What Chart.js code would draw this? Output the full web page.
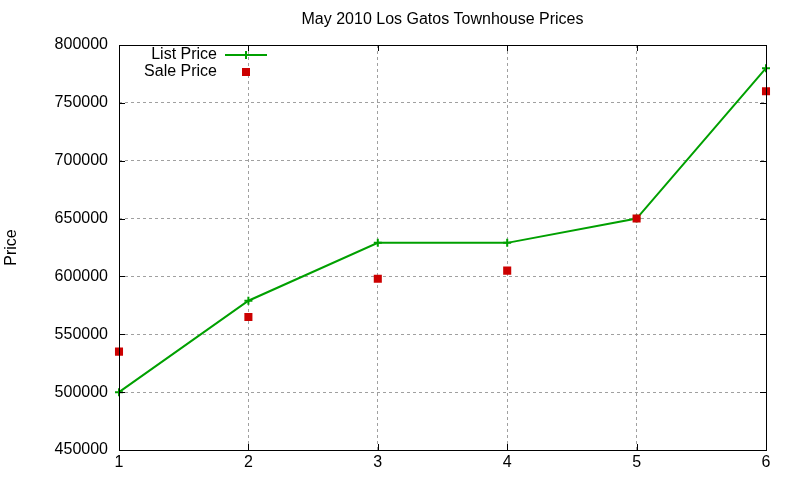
<!DOCTYPE html>
<html>
<head>
<meta charset="utf-8">
<script src="https://cdn.jsdelivr.net/npm/chart.js@4"></script>
<style>
  html, body { margin: 0; padding: 0; background: #fff; }
  #wrap { width: 800px; height: 480px; }
</style>
</head>
<body>
<div id="wrap"><canvas id="chart" width="800" height="480"></canvas></div>
<script>
const months = ['1', '2', '3', '4', '5', '6'];
const listPrice = [500000, 579000, 629000, 629000, 650000, 780000];
const salePrice = [535000, 565000, 598000, 605000, 650000, 760000];
const yTicks = [450000, 500000, 550000, 600000, 650000, 700000, 750000, 800000];

const FONT = 'Liberation Sans, Arial, sans-serif';
const GREEN = '#00a000';
const RED = '#cc0000';

// gnuplot style frame, mirrored inward ticks, title and key
const gnuFrame = {
    id: 'gnuFrame',
    afterDraw(chart) {
        const ctx = chart.ctx;
        const a = chart.chartArea;
        const xs = chart.scales.x;
        const ys = chart.scales.y;
        ctx.save();
        ctx.strokeStyle = '#000';
        ctx.lineWidth = 1;
        ctx.strokeRect(Math.round(a.left) + 0.5, Math.round(a.top) + 0.5,
            Math.round(a.right - a.left), Math.round(a.bottom - a.top));
        ctx.beginPath();
        yTicks.forEach(v => {
            const y = Math.round(ys.getPixelForValue(v)) + 0.5;
            ctx.moveTo(a.left, y); ctx.lineTo(a.left + 6, y);
            ctx.moveTo(a.right - 6, y); ctx.lineTo(a.right, y);
        });
        months.forEach((m, i) => {
            const x = Math.round(xs.getPixelForValue(i)) + 0.5;
            ctx.moveTo(x, a.bottom); ctx.lineTo(x, a.bottom - 6);
            ctx.moveTo(x, a.top); ctx.lineTo(x, a.top + 6);
        });
        ctx.stroke();

        // title
        ctx.fillStyle = '#000';
        ctx.font = '16px ' + FONT;
        ctx.textAlign = 'center';
        ctx.textBaseline = 'middle';
        ctx.fillText('May 2010 Los Gatos Townhouse Prices', (a.left + a.right) / 2, 20);

        // key
        ctx.textAlign = 'right';
        ctx.fillText('List Price', 217, 55);
        ctx.fillText('Sale Price', 217, 72);
        ctx.strokeStyle = GREEN;
        ctx.lineWidth = 2;
        ctx.beginPath();
        ctx.moveTo(225, 55); ctx.lineTo(267, 55);
        ctx.moveTo(246, 51); ctx.lineTo(246, 59);
        ctx.stroke();
        ctx.fillStyle = RED;
        ctx.fillRect(242, 68, 8, 8);
        ctx.restore();
    }
};

const ctx = document.getElementById('chart').getContext('2d');
new Chart(ctx, {
    type: 'line',
    data: {
        labels: months,
        datasets: [
            {
                label: 'List Price',
                data: listPrice,
                order: 2, // drawn first, sale squares sit on top
                borderColor: GREEN,
                backgroundColor: GREEN,
                borderWidth: 2,
                tension: 0,
                pointStyle: 'cross',
                pointRadius: 4,
                pointBorderWidth: 2,
                pointBorderColor: GREEN,
                fill: false
            },
            {
                label: 'Sale Price',
                data: salePrice,
                order: 1,
                showLine: false,
                borderColor: RED,
                backgroundColor: RED,
                pointStyle: 'rect',
                pointRadius: 5.7,
                pointBorderWidth: 0,
                fill: false
            }
        ]
    },
    options: {
        responsive: false,
        animation: false,
        devicePixelRatio: 1,
        layout: { padding: { left: 0, right: 34, top: 45, bottom: 0 } },
        plugins: {
            legend: { display: false },
            title: { display: false },
            tooltip: { enabled: false }
        },
        scales: {
            x: {
                type: 'category',
                offset: false,
                grid: { color: '#a0a0a0', lineWidth: 1, drawTicks: false },
                border: { display: false, dash: [3, 3] },
                ticks: {
                    color: '#000',
                    font: { family: FONT, size: 16 },
                    padding: 3,
                    maxRotation: 0
                },
                afterFit(scale) { scale.height = 30; }
            },
            y: {
                min: 450000,
                max: 800000,
                grid: { color: '#a0a0a0', lineWidth: 1, drawTicks: false },
                border: { display: false, dash: [3, 3] },
                ticks: {
                    stepSize: 50000,
                    color: '#000',
                    font: { family: FONT, size: 16 },
                    padding: 11,
                    callback: v => String(v)
                },
                title: {
                    display: true,
                    text: 'Price',
                    color: '#000',
                    font: { family: FONT, size: 16 },
                    padding: { top: 2, bottom: 0 }
                },
                afterFit(scale) { scale.width = 119; }
            }
        }
    },
    plugins: [gnuFrame]
});
</script>
</body>
</html>
